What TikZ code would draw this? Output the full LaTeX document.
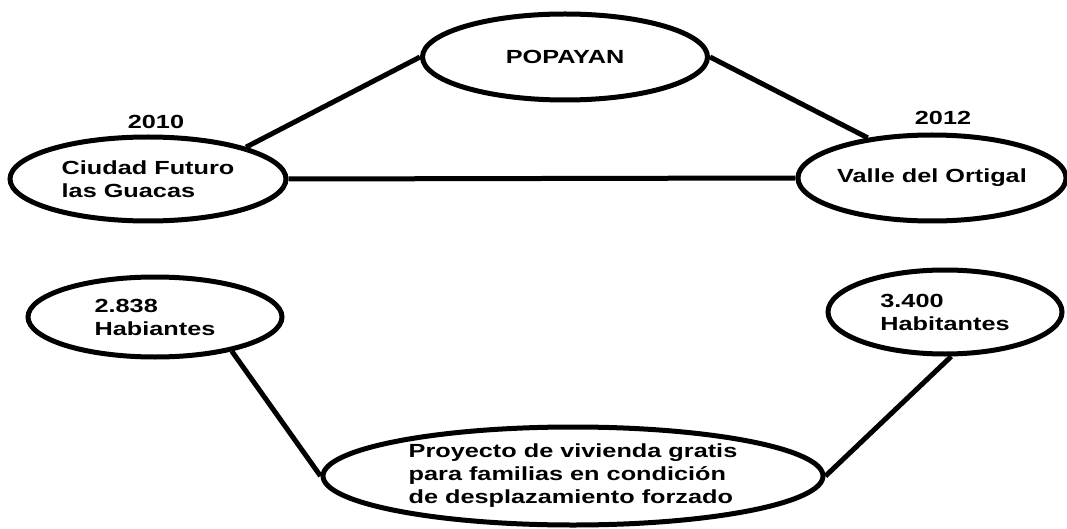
\documentclass[tikz,border=0pt]{standalone}
\usepackage{fontspec}
\setmainfont[FakeStretch=1.33]{Liberation Sans}
\usetikzlibrary{shapes.geometric}
\begin{document}
\begin{tikzpicture}[x=1pt,y=-1pt,line width=5pt,
  oval/.style={draw,ellipse,inner sep=0pt,align=left,font=\fontsize{19}{23}\selectfont\bfseries},
  year/.style={font=\fontsize{19}{23}\selectfont\bfseries}]
  \useasboundingbox (0,0) rectangle (1067,529);
  \node[oval,minimum width=285,minimum height=86](popayan) at (565,57) {POPAYAN};
  \node[oval,minimum width=276,minimum height=84](ciudad) at (148,179) {Ciudad Futuro\\las Guacas};
  \node[oval,minimum width=264,minimum height=86](valle) at (932,178) {Valle del Ortigal};
  \node[oval,minimum width=254,minimum height=80](hab1) at (155,317) {2.838\\Habiantes};
  \node[oval,minimum width=234,minimum height=84](hab2) at (945,312) {3.400\\Habitantes};
  \node[oval,minimum width=500,minimum height=98](proyecto) at (573,476) {Proyecto de vivienda gratis\\para familias en condici\'on\\de desplazamiento forzado};
  \node[year](y2010) at (156,122) {2010};
  \node[year](y2012) at (943,118) {2012};
  \draw (ciudad.18) -- (popayan.west);
  \draw (popayan.east) -- (valle.148);
  \draw (ciudad.east) -- (valle.west);
  \draw (hab1.-24) -- (proyecto.west);
  \draw (hab2.-82) -- (proyecto.east);
\end{tikzpicture}
\end{document}
